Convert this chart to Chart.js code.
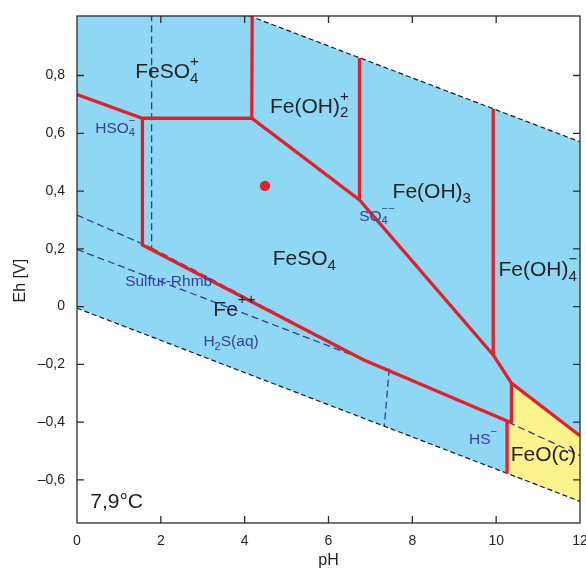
<!DOCTYPE html>
<html><head><meta charset="utf-8">
<script src="https://cdn.jsdelivr.net/npm/chart.js@4.4.1/dist/chart.umd.min.js"></script>
<style>html,body{margin:0;padding:0;background:#fff}canvas{display:block}</style>
</head><body>
<canvas id="c" width="586" height="572"></canvas>
<script>
// ---------- data (pH, Eh [V]) ----------
const pHTicks = [0, 2, 4, 6, 8, 10, 12];
const ehTicks = [-0.6, -0.4, -0.2, 0, 0.2, 0.4, 0.6, 0.8];
const pHRange = [0, 12];
const ehRange = [-0.749, 1.006];

// water stability limits (dashed black)
const waterUpper = [[0, 1.234], [12, 0.5705]];
const waterLower = [[0, -0.0055], [12, -0.674]];
// water stability field (blue) and FeO(c) field (yellow)
const waterField = [[0, 1.234], [12, 0.5705], [12, -0.674], [0, -0.0055]];
const feoField = [[10.365, -0.265], [12, -0.447], [12, -0.674], [10.26, -0.577], [10.26, -0.398], [10.365, -0.398]];

// iron predominance boundaries (red)
const feUpperChain = [[0, 0.734], [1.56, 0.652], [4.17, 0.652], [6.74, 0.369], [9.93, -0.167], [10.365, -0.265], [12, -0.447]];
const feSO4pBound = [[4.17, 0.652], [4.18, 1.05]];
const feOH2Bound = [[6.74, 0.369], [6.74, 0.861]];
const feOH4Bound = [[9.93, -0.167], [9.93, 0.685]];
const feLowerChain = [[1.56, 0.652], [1.56, 0.213], [6.83, -0.184], [10.29, -0.398]];
const feOBound = [[10.365, -0.265], [10.365, -0.398], [10.26, -0.398], [10.26, -0.578]];

// sulfur predominance boundaries (dashed blue)
const sHSO4SO4 = [[1.78, 1.05], [1.78, 0.205]];
const sHSO4S = [[0, 0.317], [1.78, 0.203]];
const sSO4S = [[1.78, 0.203], [6.83, -0.182]];
const sSH2S = [[0, 0.198], [6.83, -0.182]];
const sSO4H2S = [[6.83, -0.182], [7.45, -0.22], [10.29, -0.398]];
const sH2SHS = [[7.45, -0.215], [7.33, -0.414]];
const sSO4HS = [[10.29, -0.40], [12, -0.515]];

// sample point
const sample = [[4.485, 0.418]];

// field labels: anchor (pH, Eh) of text baseline start
const fieldLabels = [
  {at: [1.387, 0.791], parts: ['FeSO', {sub: '4', sup: '+'}], kind: 'big'},
  {at: [0.434, 0.601], parts: ['HSO', {sub: '4', sup: '\u2212'}], kind: 'blue'},
  {at: [4.604, 0.671], parts: ['Fe(OH)', {sub: '2', sup: '+'}], kind: 'big'},
  {at: [7.529, 0.375], parts: ['Fe(OH)', {sub: '3'}], kind: 'big'},
  {at: [6.733, 0.297], parts: ['SO', {sub: '4', sup: '\u2212\u2212'}], kind: 'blue'},
  {at: [4.669, 0.144], parts: ['FeSO', {sub: '4'}], kind: 'big'},
  {at: [1.149, 0.0716], parts: ['Sulfur-Rhmb'], kind: 'blue'},
  {at: [3.253, -0.032], parts: ['Fe', {sup: '++'}], kind: 'big'},
  {at: [3.015, -0.138], parts: ['H', {sub: '2'}, 'S(aq)'], kind: 'blue'},
  {at: [10.055, 0.106], parts: ['Fe(OH)', {sub: '4', sup: '\u2212'}], kind: 'big'},
  {at: [9.354, -0.476], parts: ['HS', {sup: '\u2212'}], kind: 'blue'},
  {at: [10.348, -0.5335], parts: ['FeO(c)'], kind: 'big'},
  {at: [0.315, -0.697], parts: ['7,9\u00b0C'], kind: 'big'}
];

// ---------- styling ----------
const FONT = "'Liberation Sans', Arial, sans-serif";
const BLUE_FILL = '#8ed8f5';
const YELLOW_FILL = '#fdf38c';
const RED = '#e51f28';
const SBLUE = '#2f3a96';
const TXT = '#231f20';
const TXT_BLUE = '#3a3c9c';

const pts = a => a.map(([x, y]) => ({x, y}));
const redLine = (d) => ({data: pts(d), borderColor: RED, borderWidth: 3.3, borderJoinStyle: 'miter', fill: false, order: 5});
const blueDash = (d) => ({data: pts(d), borderColor: SBLUE, borderWidth: 1.3, borderDash: [7, 4], fill: false, order: 7});
const blackDash = (d) => ({data: pts(d), borderColor: '#1a1a1a', borderWidth: 1.2, borderDash: [5, 3], fill: false, order: 8});

const datasets = [
  {data: pts(waterField), borderWidth: 0, borderColor: 'rgba(0,0,0,0)', backgroundColor: BLUE_FILL, fill: 'shape', order: 20},
  {data: pts(feoField), borderWidth: 0, borderColor: 'rgba(0,0,0,0)', backgroundColor: YELLOW_FILL, fill: 'shape', order: 19},
  blackDash(waterUpper), blackDash(waterLower),
  blueDash(sHSO4SO4), blueDash(sHSO4S), blueDash(sSO4S), blueDash(sSH2S),
  blueDash(sSO4H2S), blueDash(sH2SHS), blueDash(sSO4HS),
  redLine(feUpperChain), redLine(feSO4pBound), redLine(feOH2Bound), redLine(feOH4Bound),
  redLine(feLowerChain), redLine(feOBound),
  {data: pts(sample), showLine: false, pointRadius: 5.2, pointBackgroundColor: RED, pointBorderWidth: 0, order: 1}
];
datasets.forEach(d => { d.clip = 0; if (d.showLine === undefined) d.showLine = true; if (d.pointRadius === undefined) d.pointRadius = 0; d.tension = 0; });

function drawRich(ctx, x, y, parts, size, color) {
  ctx.fillStyle = color;
  ctx.textAlign = 'left';
  ctx.textBaseline = 'alphabetic';
  const small = size * 0.72;
  for (const p of parts) {
    if (typeof p === 'string') {
      ctx.font = size + 'px ' + FONT;
      ctx.fillText(p, x, y);
      x += ctx.measureText(p).width;
    } else {
      ctx.font = small + 'px ' + FONT;
      let w = 0;
      if (p.sub) { ctx.fillText(p.sub, x, y + size * 0.22); w = Math.max(w, ctx.measureText(p.sub).width); }
      if (p.sup) { ctx.fillText(p.sup, x, y - size * 0.58); w = Math.max(w, ctx.measureText(p.sup).width); }
      x += w;
    }
  }
}

const framePlugin = {
  id: 'frame',
  afterDraw(chart) {
    const {ctx, chartArea: a, scales: {x, y}} = chart;
    ctx.save();
    ctx.strokeStyle = '#2b2b2b';
    ctx.lineWidth = 1.3;
    ctx.strokeRect(a.left, a.top, a.right - a.left, a.bottom - a.top);
    const L = 7;
    ctx.beginPath();
    x.ticks.forEach(t => {
      const px = x.getPixelForValue(t.value);
      if (px <= a.left + 1 || px >= a.right - 1) return;
      ctx.moveTo(px, a.bottom); ctx.lineTo(px, a.bottom - L);
      ctx.moveTo(px, a.top); ctx.lineTo(px, a.top + L);
    });
    y.ticks.forEach(t => {
      const py = y.getPixelForValue(t.value);
      ctx.moveTo(a.left, py); ctx.lineTo(a.left + L, py);
      ctx.moveTo(a.right, py); ctx.lineTo(a.right - L, py);
    });
    ctx.stroke();
    fieldLabels.forEach(l => {
      const px = x.getPixelForValue(l.at[0]);
      const py = y.getPixelForValue(l.at[1]);
      if (l.kind === 'blue') drawRich(ctx, px, py, l.parts, 15.5, TXT_BLUE);
      else drawRich(ctx, px, py, l.parts, 21, TXT);
    });
    ctx.restore();
  }
};

const fmt = v => {
  if (Math.abs(v) < 1e-9) return '0';
  return (v < 0 ? '\u2013' : '') + Math.abs(v).toFixed(1).replace('.', ',');
};

new Chart(document.getElementById('c'), {
  type: 'scatter',
  data: {datasets},
  options: {
    responsive: false,
    animation: false,
    devicePixelRatio: 1,
    layout: {padding: {left: 0, right: 6, top: 16, bottom: 0}},
    plugins: {legend: {display: false}, tooltip: {enabled: false}},
    scales: {
      x: {
        type: 'linear', min: pHRange[0], max: pHRange[1],
        grid: {display: false, drawTicks: false},
        border: {display: false},
        afterBuildTicks: s => { s.ticks = pHTicks.map(v => ({value: v})); },
        afterFit: s => { s.height = 49; s.paddingLeft = 0; s.paddingRight = 0; },
        ticks: {color: TXT, font: {family: FONT, size: 14}, padding: 10, maxRotation: 0, autoSkip: false, callback: v => String(v)},
        title: {display: true, text: 'pH', color: TXT, font: {family: FONT, size: 16}, padding: {top: 0, bottom: 2}}
      },
      y: {
        type: 'linear', min: ehRange[0], max: ehRange[1],
        grid: {display: false, drawTicks: false},
        border: {display: false},
        afterBuildTicks: s => { s.ticks = ehTicks.map(v => ({value: v})); },
        afterFit: s => { s.width = 77; s.paddingTop = 0; s.paddingBottom = 0; },
        ticks: {color: TXT, font: {family: FONT, size: 14}, padding: 12, autoSkip: false, callback: v => fmt(v)},
        title: {display: true, text: 'Eh [V]\u00a0\u00a0\u00a0\u00a0\u00a0', color: TXT, font: {family: FONT, size: 16}, padding: {top: 11, bottom: 0}}
      }
    }
  },
  plugins: [framePlugin]
});
</script>
</body></html>
